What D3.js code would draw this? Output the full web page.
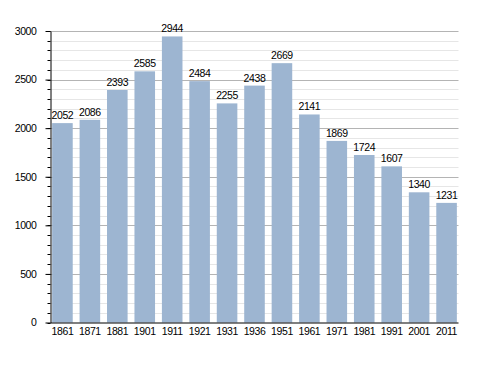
<!DOCTYPE html>
<html>
<head>
<meta charset="utf-8">
<script src="https://cdn.jsdelivr.net/npm/d3@7"></script>
<style>
  body { margin: 0; background: #fff; }
  text { font-family: "Liberation Sans", Arial, sans-serif; }
</style>
</head>
<body>
<div id="chart"></div>
<script>
// census years and population counts
const years = ["1861", "1871", "1881", "1901", "1911", "1921", "1931", "1936", "1951", "1961", "1971", "1981", "1991", "2001", "2011"];
const population = [2052, 2086, 2393, 2585, 2944, 2484, 2255, 2438, 2669, 2141, 1869, 1724, 1607, 1340, 1231];
const yTicks = [0, 500, 1000, 1500, 2000, 2500, 3000];

const width = 488, height = 373;
const plotLeft = 50.5, plotRight = 458.5, plotTop = 31, plotBottom = 322.5;

const svg = d3.select("#chart").append("svg")
    .attr("width", width)
    .attr("height", height);

const x = d3.scaleBand()
    .domain(years)
    .range([plotLeft, plotRight])
    .paddingInner(0.25)
    .paddingOuter(0.06);

const y = d3.scaleLinear()
    .domain([0, 3000])
    .range([plotBottom, plotTop]);

// minor gridlines every 100
const minor = d3.range(100, 3001, 100).filter(v => v % 500 !== 0);
svg.append("g").selectAll("line")
    .data(minor)
    .join("line")
    .attr("x1", plotLeft).attr("x2", plotRight)
    .attr("y1", d => Math.round(y(d)) + 0.5).attr("y2", d => Math.round(y(d)) + 0.5)
    .attr("stroke", "#e6e6e6")
    .attr("stroke-width", 1);

// major gridlines
svg.append("g").selectAll("line")
    .data(yTicks.filter(d => d > 0))
    .join("line")
    .attr("x1", plotLeft).attr("x2", plotRight)
    .attr("y1", d => Math.round(y(d)) + 0.5).attr("y2", d => Math.round(y(d)) + 0.5)
    .attr("stroke", "#b4b4b4")
    .attr("stroke-width", 1);

// bars
svg.append("g").selectAll("rect")
    .data(population)
    .join("rect")
    .attr("x", (d, i) => x(years[i]))
    .attr("y", d => y(d))
    .attr("width", x.bandwidth())
    .attr("height", d => plotBottom - y(d))
    .attr("fill", "#9db5d1");

// value labels
svg.append("g").selectAll("text")
    .data(population)
    .join("text")
    .attr("x", (d, i) => x(years[i]) + x.bandwidth() / 2)
    .attr("y", d => y(d) - 4)
    .attr("text-anchor", "middle")
    .attr("font-size", "10.5px")
    .attr("letter-spacing", "-0.4px")
    .attr("fill", "#000")
    .text(d => d);

// y axis minor ticks
svg.append("g").selectAll("line")
    .data(d3.range(0, 3001, 100))
    .join("line")
    .attr("x1", plotLeft - 3).attr("x2", plotLeft)
    .attr("y1", d => Math.round(y(d)) + 0.5).attr("y2", d => Math.round(y(d)) + 0.5)
    .attr("stroke", "#000");

// y axis
const yAxis = svg.append("g")
    .attr("transform", `translate(${plotLeft},0)`)
    .call(d3.axisLeft(y).tickValues(yTicks).tickFormat(d3.format("d")).tickSize(5).tickPadding(9).tickSizeOuter(0));
yAxis.select(".domain").attr("stroke", "#000");
yAxis.selectAll("text").attr("font-size", "10.5px").attr("letter-spacing", "-0.4px")
    .attr("font-family", "Liberation Sans, Arial, sans-serif").attr("fill", "#000");

// x axis
const xAxis = svg.append("g")
    .attr("transform", `translate(0,${plotBottom})`)
    .call(d3.axisBottom(x).tickSize(0).tickPadding(5).tickSizeOuter(0));
xAxis.select(".domain").attr("stroke", "#000").attr("d", `M${plotLeft},0.5H${plotRight}`);
xAxis.selectAll("text").attr("font-size", "10.5px").attr("letter-spacing", "-0.4px")
    .attr("font-family", "Liberation Sans, Arial, sans-serif").attr("fill", "#000");
</script>
</body>
</html>
